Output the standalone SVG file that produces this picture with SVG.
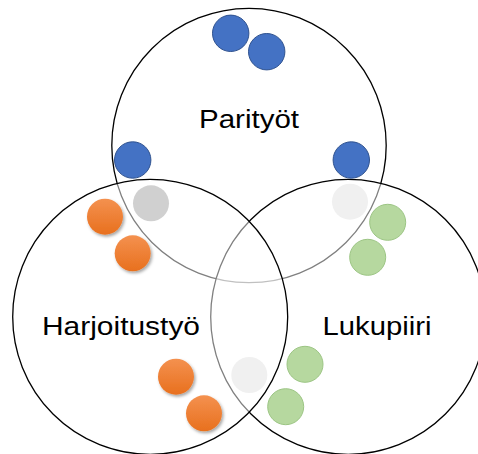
<svg xmlns="http://www.w3.org/2000/svg" width="478" height="454" viewBox="0 0 478 454">
<style>
.big{fill:#ffffff;fill-opacity:0.5;stroke:#000;stroke-width:1.3}
.blue{fill:#4472C4;stroke:#2F528F;stroke-width:1}
.orange{fill:url(#og);filter:url(#sh)}
.green{fill:#A9D18E;fill-opacity:0.85;stroke:#9CC584;stroke-width:1}
.lbl{font-family:"Liberation Sans",Arial,sans-serif;font-size:26px;fill:#000;text-anchor:middle}
</style>
<defs>
<linearGradient id="og" x1="0" y1="0" x2="0" y2="1">
<stop offset="0" stop-color="#F4914F"/>
<stop offset="1" stop-color="#E8701E"/>
</linearGradient>
<filter id="sh" x="-30%" y="-30%" width="170%" height="170%">
<feDropShadow dx="1.5" dy="2" stdDeviation="1.5" flood-color="#000" flood-opacity="0.35"/>
</filter>
</defs>
<rect width="478" height="454" fill="#fff"/>
<g id="parityot">
<circle class="big" cx="249" cy="145.5" r="137.2" style="fill:#fff;fill-opacity:1"/>
</g>
<g id="lukupiiri">
<circle class="big" cx="348.2" cy="316.8" r="137.5"/>
</g>
<g id="harjoitustyo">
<circle class="big" cx="150.2" cy="316.8" r="137.5"/>
</g>
<g id="dots">
<circle class="blue" cx="230.7" cy="33.3" r="18.2"/>
<circle class="blue" cx="266.7" cy="51.7" r="18.2"/>
<circle class="blue" cx="132.7" cy="160" r="18.2"/>
<circle class="blue" cx="351.3" cy="160" r="18.2"/>
<circle cx="151" cy="203.3" r="18" fill="#D0D0D0"/>
<circle cx="350" cy="201.7" r="18" fill="#F0F0F0"/>
<circle cx="249.3" cy="375" r="18" fill="#F0F0F0"/>
<circle class="orange" cx="105" cy="216.7" r="18"/>
<circle class="orange" cx="132.7" cy="253.3" r="18"/>
<circle class="orange" cx="176" cy="376.7" r="18"/>
<circle class="orange" cx="204" cy="413.3" r="18"/>
<circle class="green" cx="387.7" cy="222.3" r="18"/>
<circle class="green" cx="367.7" cy="257.3" r="18"/>
<circle class="green" cx="305" cy="364.3" r="18"/>
<circle class="green" cx="285.7" cy="406.7" r="18"/>
</g>
<g id="labels">
<text class="lbl" x="249" y="128" textLength="100" lengthAdjust="spacingAndGlyphs">Parityöt</text>
<text class="lbl" x="121" y="334.5" textLength="158" lengthAdjust="spacingAndGlyphs">Harjoitustyö</text>
<text class="lbl" x="377" y="335" textLength="109" lengthAdjust="spacingAndGlyphs">Lukupiiri</text>
</g>
</svg>
